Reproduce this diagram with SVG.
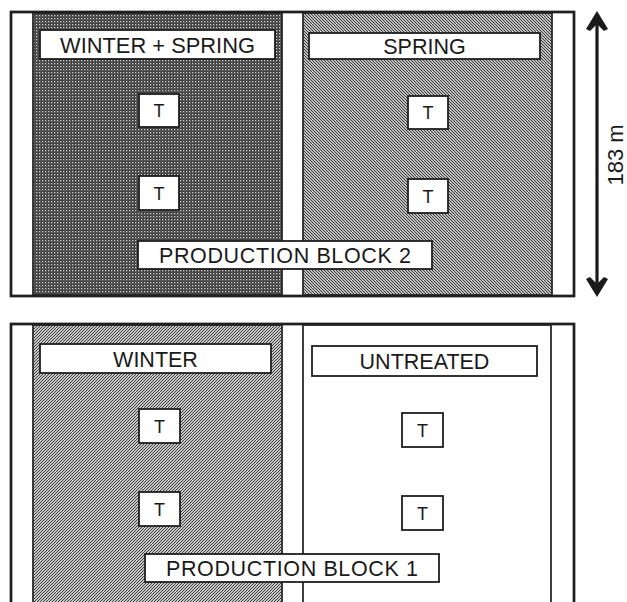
<svg xmlns="http://www.w3.org/2000/svg" width="627" height="602" viewBox="0 0 627 602">
<defs>
<pattern id="dots" width="3" height="3" patternUnits="userSpaceOnUse">
<rect width="3" height="3" fill="#333"/>
<rect x="0" y="0" width="1.3" height="1.3" fill="#dcdcdc"/>
<rect x="1.5" y="1.5" width="1" height="1" fill="#999"/>
</pattern>
<pattern id="hatchB" width="3" height="3" patternUnits="userSpaceOnUse">
<rect width="3" height="3" fill="#fff"/>
<path d="M-1,-1 L4,4 M-1,2 L1,4 M2,-1 L4,1" stroke="#333" stroke-width="1.2"/>
</pattern>
<pattern id="hatchF" width="3" height="3" patternUnits="userSpaceOnUse">
<rect width="3" height="3" fill="#fff"/>
<path d="M-1,4 L4,-1 M-1,1 L1,-1 M2,4 L4,2" stroke="#333" stroke-width="1.05"/>
</pattern>
</defs>
<style>
.outer{fill:#fff;stroke:#1f1f1f;stroke-width:2.4}
.edge{stroke:#2a2a2a;stroke-width:1.8}
.lbl{fill:#fff;stroke:#1f1f1f;stroke-width:1.8}
.tb{fill:#fff;stroke:#1f1f1f;stroke-width:1.8}
.head{fill:#1a1a1a}
text{font-family:"Liberation Sans",Arial,sans-serif;fill:#1a1a1a}
.big{font-size:21.5px}
.t{font-size:18px}
</style>
<g id="block2">
<rect class="outer" x="11" y="12" width="563" height="284"/>
<rect id="plot-winter-spring" x="33" y="13" width="249" height="282" fill="url(#dots)" class="edge"/>
<rect id="plot-spring" x="303" y="13" width="249" height="282" fill="url(#hatchB)" class="edge"/>
<rect class="outer" x="11" y="12" width="563" height="284" style="fill:none"/>
</g>
<g id="block1">
<rect class="outer" x="11" y="324" width="563" height="290"/>
<rect id="plot-winter" x="33" y="325" width="249" height="290" fill="url(#hatchF)" class="edge"/>
<rect id="plot-untreated" x="303" y="325" width="248" height="290" fill="#fff" class="edge"/>
<rect class="outer" x="11" y="324" width="563" height="290" style="fill:none"/>
</g>
<g id="label-winter-spring">
<rect class="lbl" x="40" y="30" width="235" height="29"/>
<text class="big" x="157.5" y="52.5" text-anchor="middle" textLength="195" lengthAdjust="spacingAndGlyphs">WINTER  + SPRING</text>
</g>
<g id="label-spring">
<rect class="lbl" x="309" y="33" width="231" height="26"/>
<text class="big" x="424.5" y="54" text-anchor="middle">SPRING</text>
</g>
<g id="label-winter">
<rect class="lbl" x="40" y="344" width="231" height="29"/>
<text class="big" x="155.5" y="366.5" text-anchor="middle">WINTER</text>
</g>
<g id="label-untreated">
<rect class="lbl" x="312" y="346" width="225" height="30"/>
<text class="big" x="424.5" y="368.5" text-anchor="middle">UNTREATED</text>
</g>
<g id="label-block2">
<rect class="lbl" x="138" y="241" width="294" height="28"/>
<text class="big" x="285" y="263" text-anchor="middle" textLength="252" lengthAdjust="spacing">PRODUCTION BLOCK 2</text>
</g>
<g id="label-block1">
<rect class="lbl" x="145" y="554" width="294" height="28"/>
<text class="big" x="292" y="576" text-anchor="middle" textLength="252" lengthAdjust="spacing">PRODUCTION BLOCK 1</text>
</g>
<g id="t1"><rect class="tb" x="139" y="94" width="40" height="33"/><text class="t" x="159" y="117" text-anchor="middle">T</text></g>
<g id="t2"><rect class="tb" x="139" y="176" width="40" height="34"/><text class="t" x="159" y="199.5" text-anchor="middle">T</text></g>
<g id="t3"><rect class="tb" x="408" y="96" width="40" height="33"/><text class="t" x="428" y="119" text-anchor="middle">T</text></g>
<g id="t4"><rect class="tb" x="408" y="179" width="40" height="34"/><text class="t" x="428" y="202.5" text-anchor="middle">T</text></g>
<g id="t5"><rect class="tb" x="139" y="409" width="41" height="34"/><text class="t" x="159.5" y="432.5" text-anchor="middle">T</text></g>
<g id="t6"><rect class="tb" x="139" y="492" width="41" height="34"/><text class="t" x="159.5" y="515.5" text-anchor="middle">T</text></g>
<g id="t7"><rect class="tb" x="402" y="413" width="41" height="34"/><text class="t" x="422.5" y="436.5" text-anchor="middle">T</text></g>
<g id="t8"><rect class="tb" x="402" y="496" width="41" height="34"/><text class="t" x="422.5" y="519.5" text-anchor="middle">T</text></g>
<g id="connectors">
<line x1="597" y1="22" x2="597" y2="287" stroke="#1a1a1a" stroke-width="3.2"/>
<path class="head" d="M597,11 L608,29 L604,31 L597,24 L590,31 L586,29 Z"/>
<path class="head" d="M597,297 L608,279 L604,277 L597,284 L590,277 L586,279 Z"/>
</g>
<g id="dimension-label">
<text x="623" y="155" font-size="22" text-anchor="middle" transform="rotate(-90 623 155)">183 m</text>
</g>
</svg>
